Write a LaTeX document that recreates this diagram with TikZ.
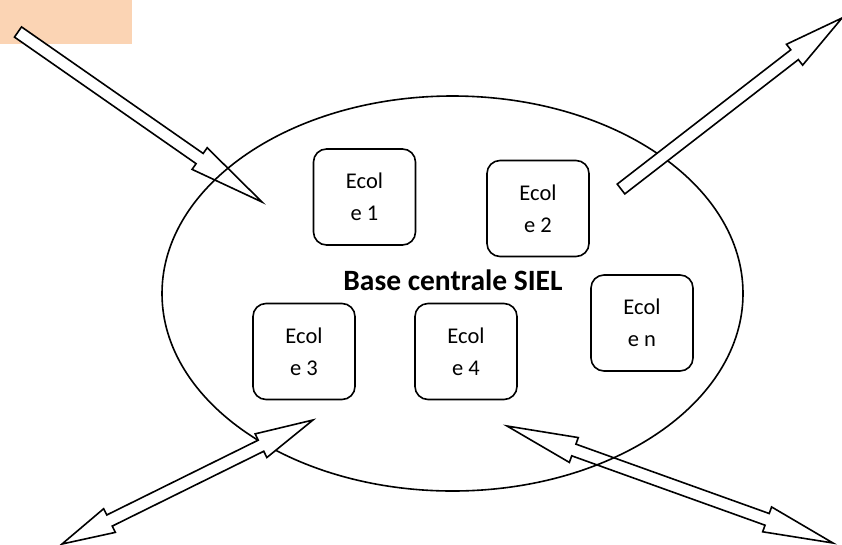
\documentclass[tikz,border=0pt]{standalone}
\usepackage{fontspec}
\setmainfont{Carlito}
\usetikzlibrary{calc}
\usetikzlibrary{shapes.geometric}
\definecolor{lightorange}{HTML}{FBD4B4}
\newcommand{\sglarrow}[3]{\draw[blockarrow] ($(#1)!6.2pt!90:(#2)$) -- ($(#2)!#3!(#1)!6.2pt!-90:(#1)$) -- ($(#2)!#3!(#1)!13.2pt!-90:(#1)$) -- (#2) -- ($(#2)!#3!(#1)!13.2pt!90:(#1)$) -- ($(#2)!#3!(#1)!6.2pt!90:(#1)$) -- ($(#1)!6.2pt!-90:(#2)$) -- cycle;}
\newcommand{\dblarrow}[4]{\draw[blockarrow] (#1) -- ($(#1)!#3!(#2)!13.2pt!90:(#2)$) -- ($(#1)!#3!(#2)!6.2pt!90:(#2)$) -- ($(#2)!#4!(#1)!6.2pt!-90:(#1)$) -- ($(#2)!#4!(#1)!13.2pt!-90:(#1)$) -- (#2) -- ($(#2)!#4!(#1)!13.2pt!90:(#1)$) -- ($(#2)!#4!(#1)!6.2pt!90:(#1)$) -- ($(#1)!#3!(#2)!6.2pt!-90:(#2)$) -- ($(#1)!#3!(#2)!13.2pt!-90:(#2)$) -- cycle;}

\begin{document}
\begin{tikzpicture}[x=1pt,y=-1pt,
    blockarrow/.style={draw,fill=white,line width=1.6pt,line join=miter},
    school/.style={draw,fill=white,rounded corners=13pt,line width=1.6pt,minimum width=102pt,minimum height=96pt,align=center,font=\fontsize{22.5}{32}\selectfont}]
    \useasboundingbox (0,0) rectangle (842,544);
    \fill[lightorange] (0,0) rectangle (132,44);
    \coordinate (inA) at (18,32);
    \coordinate (inB) at (262,202);
    \coordinate (outA) at (621,189);
    \coordinate (outB) at (842,18);
    \coordinate (swA) at (313,420);
    \coordinate (swB) at (62,544);
    \coordinate (seA) at (507,426);
    \coordinate (seB) at (833,543);
    \sglarrow{inA}{inB}{76pt}
    \dblarrow{seA}{seB}{71pt}{70pt}
    \node[ellipse,draw,line width=1.6pt,minimum width=581pt,minimum height=395pt,inner sep=0pt] (base) at (452.5,293.5) {};
    \sglarrow{outA}{outB}{60pt}
    \dblarrow{swA}{swB}{58pt}{53pt}
    \node[school] (e1) at (364.5,197) {Ecol\\e 1};
    \node[school] (e2) at (538,208.5) {Ecol\\e 2};
    \node[school] (e3) at (304,351.5) {Ecol\\e 3};
    \node[school] (e4) at (466,351.5) {Ecol\\e 4};
    \node[school] (en) at (642,323) {Ecol\\e n};
    \node[font=\fontsize{29.5}{35}\selectfont\bfseries] (title) at (453,280) {Base centrale SIEL};
\end{tikzpicture}
\end{document}
